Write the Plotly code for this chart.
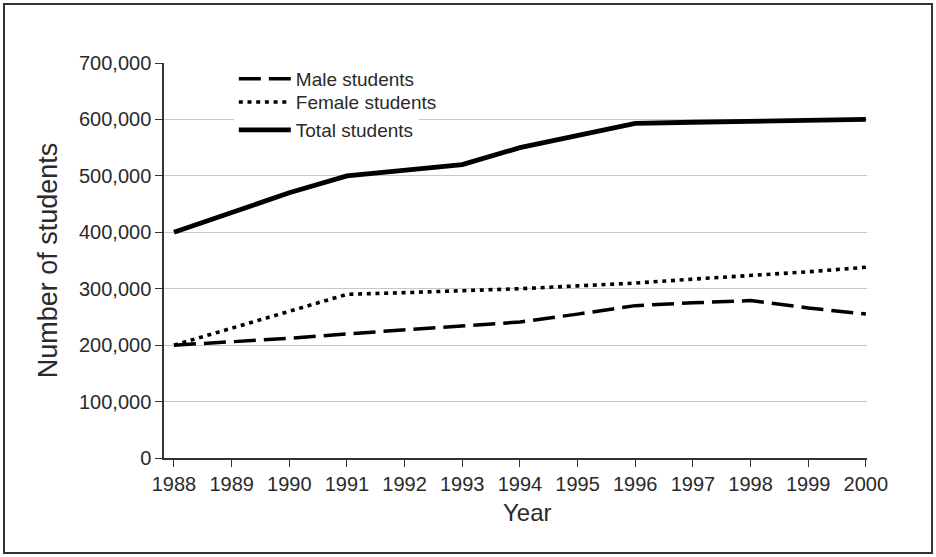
import plotly.graph_objects as go

years = list(range(1988, 2001))
male = [200000, 206000, 212000, 220000, 227000, 233000, 241000, 255000, 270000, 275000, 279000, 266000, 255000]
female = [200000, 230000, 260000, 290000, 293000, 296000, 300000, 305000, 310000, 317000, 323000, 330000, 338000]
total = [400000, 435000, 470000, 500000, 510000, 520000, 550000, 572000, 593000, 595000, 597000, 600000, 600000]
y_ticks = [0, 100000, 200000, 300000, 400000, 500000, 600000, 700000]
y_tick_text = ["0", "100,000", "200,000", "300,000", "400,000", "500,000", "600,000", "700,000"]

FONT = "Liberation Sans, Arial, sans-serif"
TXT = "#2a2a2a"

fig = go.Figure()
fig.add_trace(go.Scatter(x=years, y=male, mode="lines", name="Male students", legend="legend",
                         line=dict(color="black", width=3.5, dash="22px,8px")))
fig.add_trace(go.Scatter(x=years, y=female, mode="lines", name="Female students", legend="legend2",
                         line=dict(color="black", width=3.6, dash="4px,4.7px")))
fig.add_trace(go.Scatter(x=years, y=total, mode="lines", name="Total students", legend="legend3",
                         line=dict(color="black", width=4.8)))

leg_common = dict(x=0.0993, xanchor="left", yanchor="top", borderwidth=0,
                  font=dict(size=19, color=TXT), itemwidth=52)

fig.update_layout(
    width=936, height=557,
    margin=dict(l=164, r=69, t=63, b=99),
    paper_bgcolor="white", plot_bgcolor="white",
    font=dict(family=FONT, size=20, color=TXT),
    showlegend=True,
    legend=dict(y=1.0076, bgcolor="rgba(0,0,0,0)", **leg_common),
    legend2=dict(y=0.949, bgcolor="rgba(0,0,0,0)", **leg_common),
    legend3=dict(y=0.8785, bgcolor="white", **leg_common),
    xaxis=dict(range=[1987.827, 2000.02], tickmode="array", tickvals=years,
               ticktext=[str(y) for y in years], showgrid=False, zeroline=False,
               showline=True, linecolor="#333", linewidth=1.5,
               ticks="outside", ticklen=7, tickcolor="#333", tickwidth=1),
    yaxis=dict(range=[0, 700000], tickmode="array", tickvals=y_ticks, ticktext=y_tick_text,
               showgrid=True, gridcolor="#c8c8c8", gridwidth=1, zeroline=False,
               showline=True, linecolor="#333", linewidth=1.5,
               ticks="outside", ticklen=7, tickcolor="#333", tickwidth=1,
               title=dict(text="Number of students", font=dict(size=27), standoff=14)),
    annotations=[dict(text="Year", xref="paper", yref="paper", x=0.517, y=-0.139,
                      xanchor="center", yanchor="middle", showarrow=False,
                      font=dict(size=24, color=TXT))],
    shapes=[dict(type="rect", xref="paper", yref="paper",
                 x0=-0.2276, x1=1.0925, y0=-0.2405, y1=1.1494,
                 line=dict(color="#333", width=2), fillcolor="rgba(0,0,0,0)", layer="below")],
)

fig.write_html("out.html", config={"displayModeBar": False},
               post_script="document.body.style.margin='0';")
